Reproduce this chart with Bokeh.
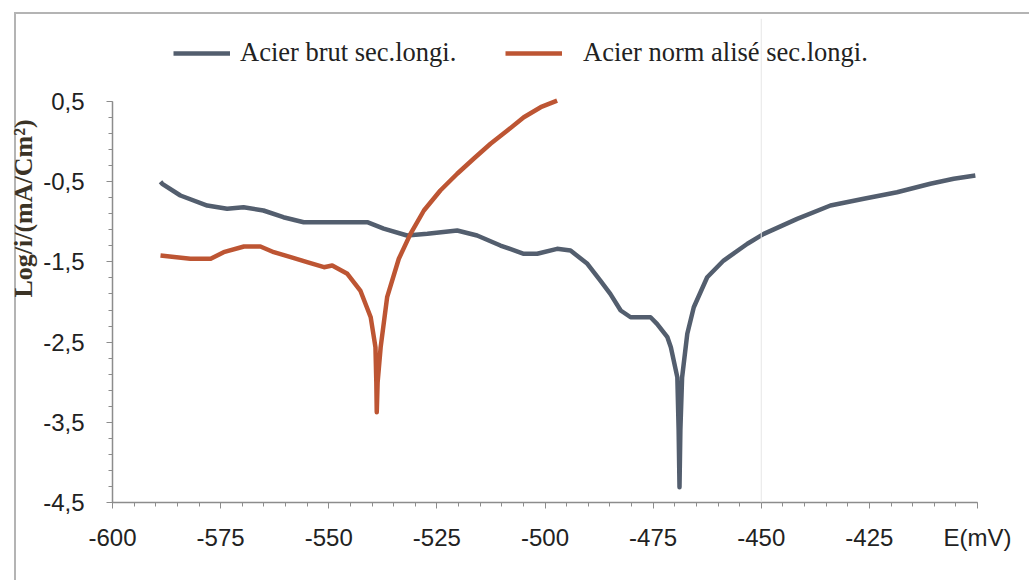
from bokeh.plotting import figure
from bokeh.models import (Range1d, SingleIntervalTicker, FixedTicker, Legend, LegendItem, Span)
from bokeh.embed import file_html
from bokeh.resources import INLINE

# ---- data ----
brut_E = [-588.9, -588.5, -584.3, -578.1, -573.5, -569.7, -565.1, -560.5, -555.8, -550.4,
          -544.3, -541.1, -537.3, -531.9, -527.2, -520.3, -515.7, -510.3, -504.9, -501.8,
          -497.2, -494.1, -490.2, -487.2, -484.9, -482.5, -480.2, -475.6, -474.1, -471.7,
          -470.9, -469.4, -469.1, -468.9, -468.7, -468.3, -467.1, -465.6, -462.5, -458.7,
          -453.2, -449.4, -441.7, -434.0, -426.3, -418.6, -410.9, -405.5, -400.5]
brut_logi = [-0.50, -0.526, -0.672, -0.797, -0.838, -0.818, -0.859, -0.943, -1.005, -1.005,
             -1.005, -1.005, -1.084, -1.171, -1.150, -1.108, -1.171, -1.296, -1.399, -1.399,
             -1.337, -1.358, -1.524, -1.732, -1.898, -2.106, -2.190, -2.190, -2.272, -2.439,
             -2.564, -2.94, -3.60, -4.31, -3.60, -2.94, -2.397, -2.065, -1.691, -1.483,
             -1.274, -1.150, -0.963, -0.797, -0.713, -0.631, -0.526, -0.464, -0.423]

norm_E = [-588.9, -582.0, -577.3, -574.3, -569.6, -565.8, -562.7, -558.8, -555.0, -551.1,
          -549.2, -545.7, -542.7, -540.3, -539.2, -539.0, -538.9, -538.7, -538.0, -536.5,
          -533.8, -531.1, -528.0, -524.2, -520.3, -516.5, -512.6, -508.7, -504.9, -501.0,
          -497.2]
norm_logi = [-1.420, -1.461, -1.461, -1.379, -1.308, -1.308, -1.379, -1.441, -1.504, -1.566,
             -1.545, -1.648, -1.857, -2.190, -2.564, -3.00, -3.374, -3.00, -2.564, -1.940,
             -1.461, -1.150, -0.859, -0.610, -0.401, -0.214, -0.027, 0.138, 0.304, 0.429,
             0.512]

y_major = [0.5, -0.5, -1.5, -2.5, -3.5, -4.5]
y_minor = [round(0.5 - 0.2 * i, 2) for i in range(26)]
x_labels = {-600: "-600", -575: "-575", -550: "-550", -525: "-525", -500: "-500",
            -475: "-475", -450: "-450", -425: "-425", -400: "E(mV)"}
y_labels = {0.5: "0,5", -0.5: "-0,5", -1.5: "-1,5", -2.5: "-2,5", -3.5: "-3,5", -4.5: "-4,5"}
y_title = "Log/i/(mA/Cm²)"

series_names = ["Acier brut sec.longi.", "Acier norm alisé sec.longi."]
BLUE = "#535e6e"
ORANGE = "#bd5533"
GREY = "#b4b4b4"

# frame reaches up to the legend row; the y axis line itself stops at 0,5
p = figure(width=1029, height=580, output_backend="svg", toolbar_location=None,
           x_range=Range1d(-600, -400), y_range=Range1d(-4.5, 1.535),
           min_border_left=112, min_border_right=52, min_border_top=18, min_border_bottom=78)
p.styles = {"background": (f"linear-gradient({GREY},{GREY}) 14px 12px / 100% 2px no-repeat, "
                           f"linear-gradient({GREY},{GREY}) 14px 12px / 2px 100% no-repeat, white")}
p.outline_line_color = None
p.xgrid.visible = False
p.ygrid.visible = False
p.background_fill_color = "white"
p.border_fill_alpha = 0

gutter = Span(location=-450, dimension="height", line_color="#e6e6e6", line_width=1)
p.add_layout(gutter)

r_brut = p.line(brut_E, brut_logi, line_color=BLUE, line_width=4.5, line_join="round")
r_norm = p.line(norm_E, norm_logi, line_color=ORANGE, line_width=4.5, line_join="round")

AX = "#8c8c8c"
TICKFONT = "Liberation Sans"
xa = p.xaxis[0]
xa.ticker = SingleIntervalTicker(interval=25, num_minor_ticks=5)
xa.major_label_overrides = x_labels
ya = p.yaxis[0]
ya.ticker = FixedTicker(ticks=y_major, minor_ticks=y_minor)
ya.major_label_overrides = y_labels
ya.bounds = (-4.5, 0.5)
for ax in (xa, ya):
    ax.axis_line_color = AX
    ax.axis_line_width = 1.5
    ax.major_tick_line_color = AX
    ax.minor_tick_line_color = AX
    ax.major_tick_in = 0
    ax.minor_tick_in = 0
    ax.major_tick_out = 6
    ax.minor_tick_out = 4
    ax.major_label_text_font = TICKFONT
    ax.major_label_text_font_size = "24px"
    ax.major_label_text_color = "#222222"
xa.major_label_standoff = 15
ya.major_label_standoff = 22
# leading no-break spaces lift the rotated title toward the top of the axis
ya.axis_label = "\u00a0" * 16 + y_title
ya.axis_label_text_font = "Liberation Serif"
ya.axis_label_text_font_size = "26px"
ya.axis_label_text_font_style = "bold"
ya.axis_label_text_color = "#3b3326"
ya.axis_label_standoff = 2

for r, name, xloc, standoff in ((r_brut, series_names[0], 61, 10),
                                (r_norm, series_names[1], 393, 21)):
    lg = Legend(items=[LegendItem(label=name, renderers=[r])], location=(xloc, 434),
                orientation="horizontal", glyph_width=57, glyph_height=20,
                label_standoff=standoff, padding=0, margin=0,
                border_line_color=None, background_fill_alpha=0,
                label_text_font="Liberation Serif", label_text_font_size="26.5px",
                label_text_color="#222222")
    p.add_layout(lg, "center")

open("out.html", "w").write(file_html(p, INLINE))
